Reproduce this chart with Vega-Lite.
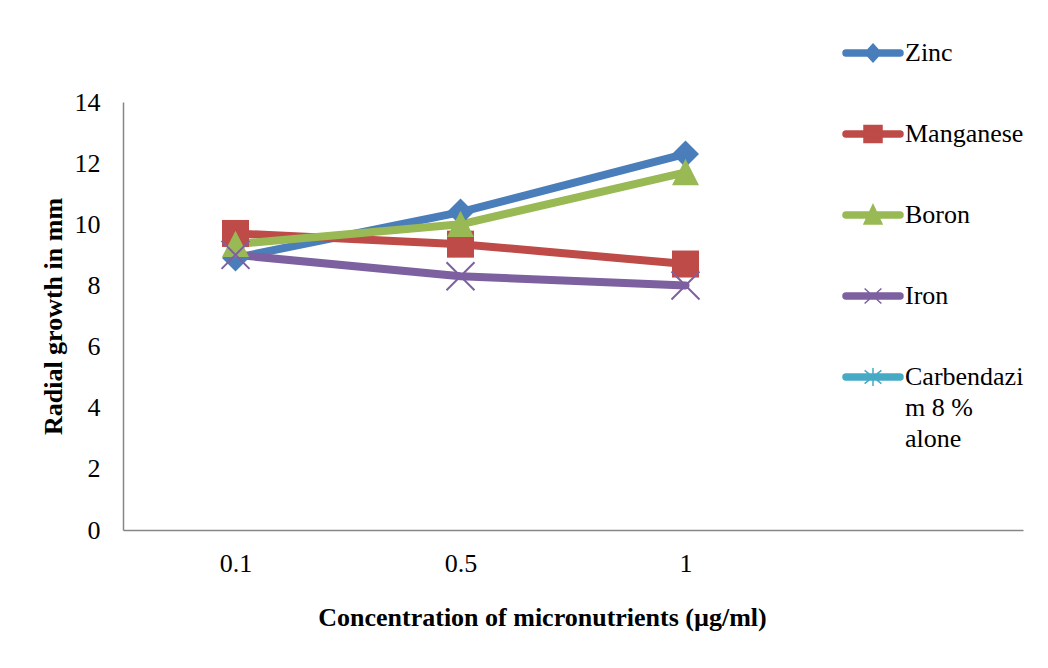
{
  "$schema": "https://vega.github.io/schema/vega-lite/v6.json",
  "autosize": "none",
  "width": 900,
  "height": 428,
  "padding": {"left": 123, "top": 102, "right": 25, "bottom": 138},
  "background": "white",
  "config": {
    "view": {"stroke": null},
    "font": "Liberation Serif"
  },
  "data": {
    "values": [
      {"series": "Zinc", "conc": "0.1", "value": 8.9},
      {"series": "Zinc", "conc": "0.5", "value": 10.4},
      {"series": "Zinc", "conc": "1", "value": 12.3},
      {"series": "Manganese", "conc": "0.1", "value": 9.7},
      {"series": "Manganese", "conc": "0.5", "value": 9.35},
      {"series": "Manganese", "conc": "1", "value": 8.7},
      {"series": "Boron", "conc": "0.1", "value": 9.35},
      {"series": "Boron", "conc": "0.5", "value": 10.0},
      {"series": "Boron", "conc": "1", "value": 11.7},
      {"series": "Iron", "conc": "0.1", "value": 9.0},
      {"series": "Iron", "conc": "0.5", "value": 8.3},
      {"series": "Iron", "conc": "1", "value": 8.0}
    ]
  },
  "encoding": {
    "x": {
      "field": "conc",
      "type": "ordinal",
      "scale": {"type": "point", "domain": ["0.1", "0.5", "1", " "], "padding": 0.5},
      "axis": {
        "title": "Concentration of micronutrients (µg/ml)",
        "labelAngle": 0,
        "labelFont": "Liberation Serif",
        "labelFontSize": 26,
        "labelColor": "black",
        "labelPadding": 20,
        "ticks": false,
        "domainColor": "#868686",
        "domainWidth": 1.5,
        "grid": false,
        "titleFont": "Liberation Serif",
        "titleFontSize": 26,
        "titleFontWeight": "bold",
        "titleColor": "black",
        "titlePadding": 28,
        "titleX": 419
      }
    },
    "y": {
      "field": "value",
      "type": "quantitative",
      "scale": {"domain": [0, 14], "nice": false},
      "axis": {
        "title": "Radial growth in mm",
        "values": [0, 2, 4, 6, 8, 10, 12, 14],
        "labelFont": "Liberation Serif",
        "labelFontSize": 26,
        "labelColor": "black",
        "labelPadding": 23,
        "ticks": false,
        "domainColor": "#868686",
        "domainWidth": 1.5,
        "grid": false,
        "titleFont": "Liberation Serif",
        "titleFontSize": 26,
        "titleFontWeight": "bold",
        "titleColor": "black",
        "titlePadding": 8
      }
    },
    "color": {
      "field": "series",
      "type": "nominal",
      "scale": {
        "domain": ["Zinc", "Manganese", "Boron", "Iron", "Carbendazim 8 % alone"],
        "range": ["#4A7EBB", "#BE4B48", "#98B954", "#7D60A0", "#46AAC5"]
      },
      "legend": {
        "orient": "none",
        "legendX": 719,
        "legendY": -80,
        "title": null,
        "symbolSize": 3600,
        "labelFont": "Liberation Serif",
        "labelFontSize": 26,
        "labelColor": "black",
        "labelOffset": 1,
        "rowPadding": 37,
        "labelLimit": 200,
        "labelExpr": "datum.value === 'Carbendazim 8 % alone' ? ['Carbendazi', 'm 8 %', 'alone'] : datum.label",
        "encode": {
          "symbols": {
            "update": {
              "shape": {"signal": "datum.value === 'Zinc' ? 'M-0.9,-0.1L0.9,-0.1A0.1,0.1,0,0,1,0.9,0.1L-0.9,0.1A0.1,0.1,0,0,1,-0.9,-0.1ZM0,-0.3L0.27,0L0,0.3L-0.27,0Z' : datum.value === 'Manganese' ? 'M-0.9,-0.1L0.9,-0.1A0.1,0.1,0,0,1,0.9,0.1L-0.9,0.1A0.1,0.1,0,0,1,-0.9,-0.1ZM-0.3,-0.28L0.3,-0.28L0.3,0.28L-0.3,0.28Z' : datum.value === 'Boron' ? 'M-0.9,-0.1L0.9,-0.1A0.1,0.1,0,0,1,0.9,0.1L-0.9,0.1A0.1,0.1,0,0,1,-0.9,-0.1ZM0,-0.34L0.3,0.3L-0.3,0.3Z' : datum.value === 'Iron' ? 'M-0.9,-0.1L0.9,-0.1A0.1,0.1,0,0,1,0.9,0.1L-0.9,0.1A0.1,0.1,0,0,1,-0.9,-0.1ZM-0.28,-0.25L0.28,0.25M-0.28,0.25L0.28,-0.25' : 'M-0.9,-0.1L0.9,-0.1A0.1,0.1,0,0,1,0.9,0.1L-0.9,0.1A0.1,0.1,0,0,1,-0.9,-0.1ZM-0.28,-0.22L0.28,0.22M-0.28,0.22L0.28,-0.22M0,-0.3L0,0.3'"},
              "fill": {"scale": "color", "field": "value"},
              "stroke": {"scale": "color", "field": "value"},
              "strokeWidth": {"value": 1.5},
              "opacity": {"value": 1},
              "fillOpacity": {"value": 1},
              "strokeOpacity": {"value": 1}
            }
          },
          "labels": {
            "update": {
              "lineHeight": {"value": 31}
            }
          }
        }
      }
    }
  },
  "layer": [
    {
      "mark": {"type": "line", "strokeWidth": 8, "strokeCap": "round", "strokeJoin": "round"}
    },
    {
      "transform": [{"filter": "datum.series !== 'Iron'"}],
      "mark": {"type": "point", "filled": true, "opacity": 1, "size": 729},
      "encoding": {
        "shape": {
          "field": "series",
          "type": "nominal",
          "scale": {
            "domain": ["Zinc", "Manganese", "Boron"],
            "range": ["diamond", "square", "M0,-1L1,0.95L-1,0.95Z"]
          },
          "legend": null
        }
      }
    },
    {
      "transform": [{"filter": "datum.series === 'Iron'"}],
      "mark": {"type": "point", "filled": false, "opacity": 1, "size": 784, "strokeWidth": 2, "shape": "M-1,-1L1,1M-1,1L1,-1"}
    }
  ]
}
